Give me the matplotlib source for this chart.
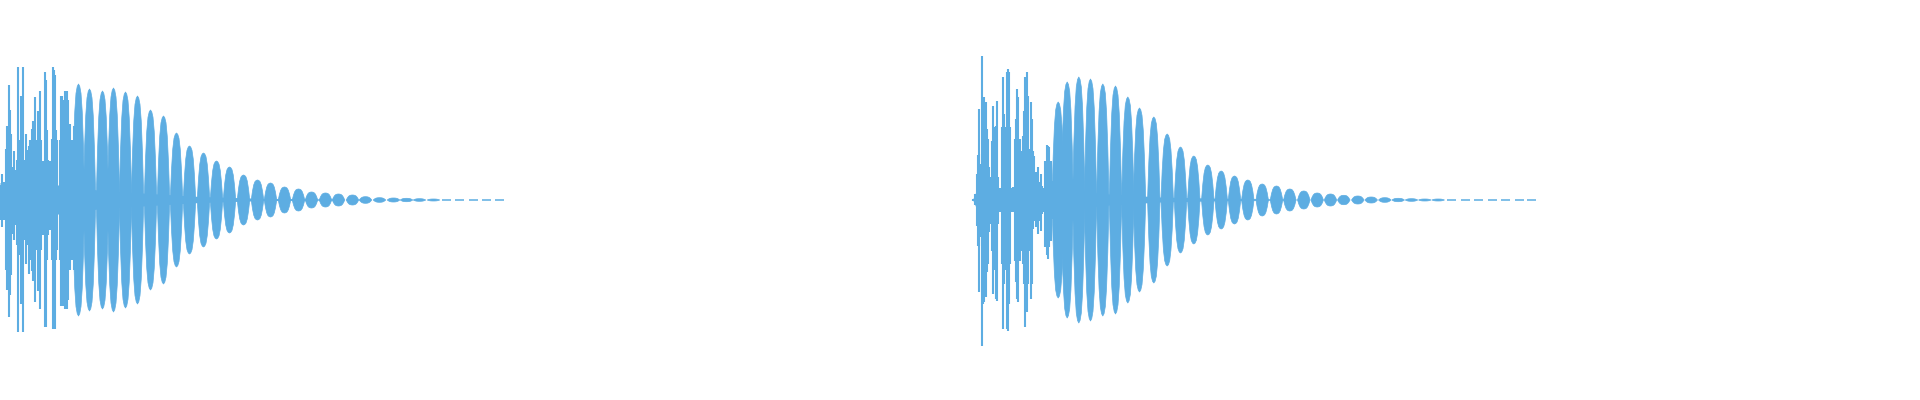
import matplotlib
matplotlib.use("Agg")
import matplotlib.pyplot as plt
import numpy as np

WAVE_COLOR = "#5dade2"

# left waveform: thin spikes in the noisy attack (t, level above, level below)
left_spike_t = [1, 2, 4, 6, 7, 8, 9, 10, 11, 13, 14, 15, 17, 18, 19, 21, 22, 23, 24, 26,
                27, 29, 30, 32, 33, 34, 35, 36, 38, 39, 40, 41, 43, 45, 46, 47, 48, 50, 52, 53,
                54, 55, 56, 57, 60, 61, 62, 63, 65, 66, 67, 68, 70, 72, 74]
left_spike_top = [15, 26, 18, 51, 74, 60, 115, 90, 66, 33, 49, 30, 40, 133, 60, 104, 80, 133, 40, 66,
                  50, 54, 60, 71, 79, 79, 103, 60, 89, 70, 109, 60, 39, 128, 120, 70, 40, 39, 61, 133,
                  130, 125, 70, 60, 60, 104, 104, 100, 109, 109, 109, 100, 76, 60, 74]
left_spike_bot = [20, 27, 20, 70, 90, 80, 117, 95, 75, 34, 40, 25, 45, 132, 55, 104, 70, 132, 40, 64,
                  45, 74, 60, 71, 81, 75, 102, 50, 91, 80, 109, 50, 35, 127, 127, 60, 35, 30, 60, 129,
                  129, 129, 60, 50, 60, 106, 106, 106, 109, 109, 109, 100, 70, 60, 70]

# left waveform: decaying beats (centre, peak level)
left_lobe_t = [78, 89, 102, 113, 125, 137, 150, 163, 176, 189, 203, 216, 229, 243, 257, 270, 284,
               298, 311, 325, 338, 352, 365, 379, 393, 406, 419, 433, 446, 459, 473, 486, 499]
left_lobe_amp = [116, 111, 109, 112, 108, 104, 90, 84, 67, 54, 47, 39, 33, 25, 20, 17, 13,
                 11, 8, 7, 6, 5, 3.3, 2.3, 2, 1.7, 1.3, 1, 0.7, 0.4, 0.4, 0.4, 0.4]

# left waveform: dense centre band
left_band_t = [0, 70, 100, 150, 200, 260, 330, 340]
left_band = [17, 14, 9, 6, 3, 1.2, 0.6, 0]

# right waveform
right_spike_t = [13.3, 14.9, 16.5, 18, 19.3, 20.7, 21.7, 22.3, 23.3, 24.3, 25.7, 26.7, 27.7, 29,
                 30.7, 31.7, 33.3, 34.3, 35.7, 37, 38.3, 40, 41.7, 43.3, 44.3, 45.7, 46.7, 47.7,
                 49, 50.3, 51.7, 53.3, 55, 56, 57.3, 58.3, 59.7, 61, 62.7, 64, 65.3, 66.7, 67.7,
                 69.3, 70.7, 71.7, 73.3, 74.3, 76, 77.7, 79, 80.7, 82.3, 83.7, 85.3, 86.7, 88,
                 89.3, 91, 92.3]
right_spike_top = [1, 6, 26, 45, 91, 36, 46, 144, 99, 103, 98, 71, 61, 33, 23, 59, 94, 73, 74, 99,
                   23, 9, 73, 123, 86, 73, 128, 131, 128, 73, 11, 13, 61, 81, 111, 103, 61, 49, 64, 89,
                   123, 128, 104, 51, 98, 81, 49, 44, 28, 33, 18, 26, 14, 3, 39, 55, 54, 53, 39, 19]
right_spike_bot = [1, 5, 26, 46, 92, 37, 46, 146, 104, 102, 97, 72, 64, 32, 24, 51, 94, 70, 99, 101,
                   24, 8, 64, 129, 84, 70, 129, 131, 104, 64, 12, 11, 61, 82, 99, 102, 61, 51, 64, 84,
                   127, 112, 84, 51, 99, 84, 29, 21, 27, 34, 21, 31, 14, 4, 47, 55, 59, 47, 41, 19]

right_lobe_t = [97.7, 106.7, 118.3, 130, 142.3, 155, 167.3, 179, 193.3, 206.7, 220, 233.3, 247.3,
                260.7, 274, 287.3, 301.7, 316, 329.3, 343.3, 356.7, 370, 383.3, 397.3, 410.7, 424.3,
                437.7, 451, 464.3, 477.7, 491.7, 505, 518, 532, 545, 559, 571]
right_lobe_amp = [98, 118, 123, 121, 116, 114, 103, 92, 83, 66, 53, 44, 35, 29, 24, 20, 16, 14,
                  11, 9, 7, 6, 4.7, 4, 3, 2.3, 1.7, 1.3, 1, 1, 0.7, 0.5, 0.4, 0.4, 0.4, 0.4, 0.3]

right_band_t = [13, 16, 20, 60, 100, 140, 200, 260, 330, 340]
right_band = [1, 8, 12, 12, 12, 6, 2.5, 1.2, 0.6, 0]

# shape of one beat (style, not data)
LOBE_WIDTH = 12.5
DASH_HALF = 4.5
PROFILE_X = np.array([-0.5, -0.4, -0.3, -0.2, -0.1, 0, 0.1, 0.2, 0.3, 0.4, 0.5])
PROFILE_Y = np.array([0, 0.45, 0.76, 0.92, 0.98, 1, 0.98, 0.92, 0.76, 0.45, 0])


def draw_wave(ax, band_t, band, spike_t, spike_top, spike_bot, lobe_t, lobe_amp):
    band = np.array(band)
    ax.fill_between(band_t, -band, band, color=WAVE_COLOR, lw=0)
    ax.vlines(spike_t, -np.array(spike_bot), np.array(spike_top), color=WAVE_COLOR, lw=1.5)
    for t, a in zip(lobe_t, lobe_amp):
        if a < 1:
            # beats below one pixel show up as short dashes
            ax.hlines(0, t - DASH_HALF, t + DASH_HALF, color=WAVE_COLOR, lw=1.1)
            continue
        xs = t + PROFILE_X * LOBE_WIDTH
        ys = a * PROFILE_Y
        ax.fill_between(xs, -ys, ys, facecolor=WAVE_COLOR, edgecolor=WAVE_COLOR, lw=0.5)
    ax.set_xlim(0, 960)
    ax.set_ylim(-200.5, 199.5)
    ax.axis("off")


fig = plt.figure(figsize=(19.2, 4), dpi=100)
ax1 = fig.add_axes([0, 0, 0.5, 1])
ax2 = fig.add_axes([0.5, 0, 0.5, 1])

draw_wave(ax1, left_band_t, left_band, left_spike_t, left_spike_top, left_spike_bot,
          left_lobe_t, left_lobe_amp)
draw_wave(ax2, right_band_t, right_band, right_spike_t, right_spike_top, right_spike_bot,
          right_lobe_t, right_lobe_amp)

fig.savefig("out.png", dpi=100)
